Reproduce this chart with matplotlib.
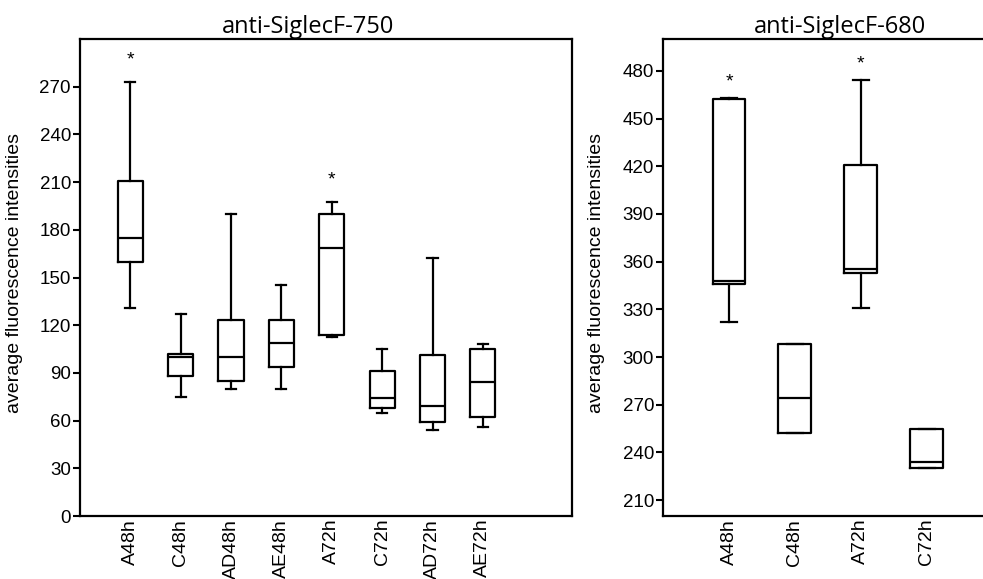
import matplotlib
matplotlib.use('Agg')
from matplotlib import pyplot as plt

plt.rcParams['font.family'] = ['Liberation Sans', 'DejaVu Sans']

# left panel: anti-SiglecF-750
groups_750 = ['A48h', 'C48h', 'AD48h', 'AE48h', 'A72h', 'C72h', 'AD72h', 'AE72h']
low_750 = [131, 75, 80, 80, 112.5, 64.5, 54, 56]
q1_750 = [160, 88, 85, 93.5, 114, 68, 59, 62]
med_750 = [175, 100, 100, 109, 168.5, 74.5, 69, 84]
q3_750 = [211, 102, 123.5, 123.5, 190, 91.5, 101, 105]
high_750 = [273, 127, 190, 145, 197.5, 105, 162, 108]
star_750 = {'A48h': 287, 'A72h': 211.5}

# right panel: anti-SiglecF-680
groups_680 = ['A48h', 'C48h', 'A72h', 'C72h']
low_680 = [322, 252, 331, 230]
q1_680 = [346, 252, 353, 230]
med_680 = [347.5, 274.5, 355.5, 234]
q3_680 = [462.5, 308, 420.5, 255]
high_680 = [463, 308, 474, 255]
star_680 = {'A48h': 473, 'A72h': 484}


def make_stats(low, q1, med, q3, high):
    stats = []
    for i in range(len(low)):
        stats.append({'whislo': low[i], 'q1': q1[i], 'med': med[i],
                      'q3': q3[i], 'whishi': high[i], 'fliers': []})
    return stats


def draw_panel(ax, groups, stats, stars, title, capw, title_x):
    lp = dict(color='black', linewidth=1.6)
    pos = list(range(len(groups)))
    ax.bxp(stats, positions=pos, widths=0.5, showfliers=False,
           boxprops=lp, whiskerprops=lp, capprops=lp, medianprops=lp,
           capwidths=capw)
    for g, v in stars.items():
        ax.text(groups.index(g), v, '*', ha='center', va='center', fontsize=14)
    ax.set_xticks(pos)
    ax.set_xticklabels(groups, rotation=90, fontsize=14)
    ax.tick_params(axis='x', length=0, pad=2)
    ax.tick_params(axis='y', length=5, width=1.5, labelsize=13.5, pad=1.5)
    for s in ax.spines.values():
        s.set_linewidth(1.6)
    ax.set_ylabel('average fluorescence intensities', fontsize=14)
    ax.set_title(title, fontsize=17, family=['Open Sans', 'DejaVu Sans'], pad=3, x=title_x)


fig = plt.figure(figsize=(9.83, 5.79), dpi=100)

ax1 = fig.add_axes([0.0814, 0.1088, 0.5005, 0.8238])
draw_panel(ax1, groups_750, make_stats(low_750, q1_750, med_750, q3_750, high_750),
           star_750, 'anti-SiglecF-750', 0.2, 0.463)
ax1.set_xlim(-1, 8.77)
ax1.set_ylim(0, 300)
ax1.set_yticks(range(0, 271, 30))
ax1.yaxis.set_label_coords(-0.116, 0.509)

ax2 = fig.add_axes([0.6745, 0.1088, 0.3255, 0.8238])
draw_panel(ax2, groups_680, make_stats(low_680, q1_680, med_680, q3_680, high_680),
           star_680, 'anti-SiglecF-680', 0.24, 0.553)
ax2.set_xlim(-1, 3.85)
ax2.set_ylim(200, 500)
ax2.set_yticks(range(210, 481, 30))
ax2.spines['right'].set_visible(False)
ax2.yaxis.set_label_coords(-0.181, 0.509)

plt.savefig('out.png', dpi=100)
